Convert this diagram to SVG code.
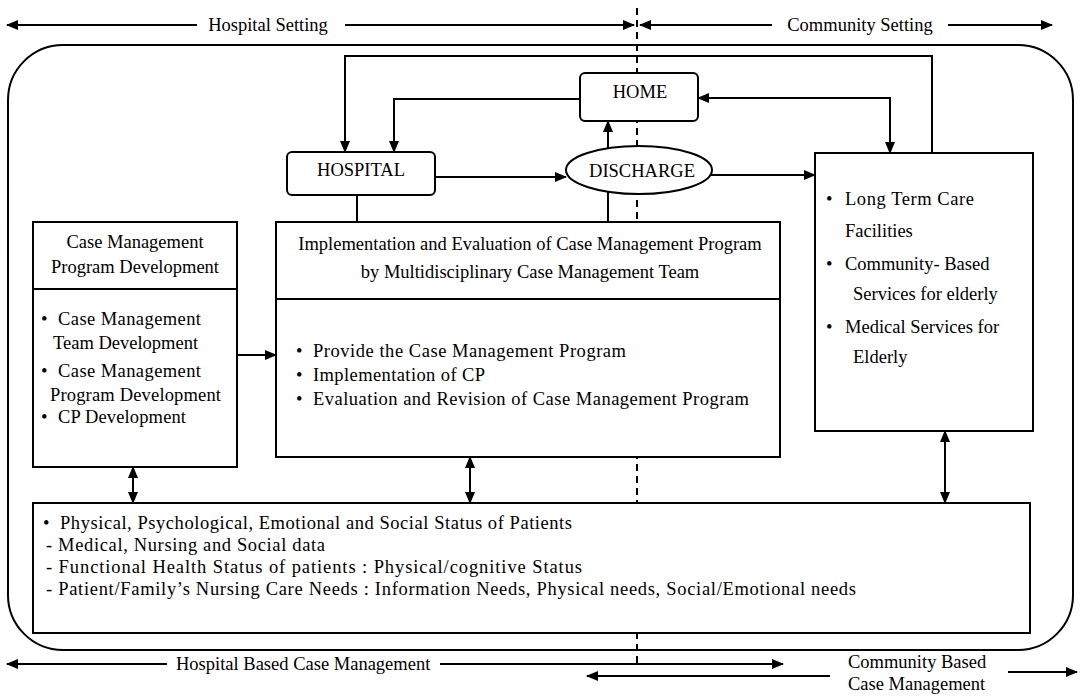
<svg xmlns="http://www.w3.org/2000/svg" width="1083" height="699" viewBox="0 0 1083 699">
<style>
text{font-family:"Liberation Serif","Times New Roman",serif;font-size:18.5px;fill:#000}
.box{fill:#fff;stroke:#000;stroke-width:2}
.ln{fill:none;stroke:#000;stroke-width:2}
.dash{fill:none;stroke:#000;stroke-width:2;stroke-dasharray:7,5}
.c{text-anchor:middle}
</style>
<defs>
<marker id="ah" viewBox="0 0 12 10" refX="11" refY="5" markerWidth="12" markerHeight="10" markerUnits="userSpaceOnUse" orient="auto-start-reverse"><path d="M0,0 L12,5 L0,10 Z" fill="#000"/></marker>
</defs>
<rect width="1083" height="699" fill="#fff"/>

<g id="dividers">
<line class="dash" x1="637" y1="8" x2="637" y2="668"/>
<rect x="8" y="45" width="1065" height="605" rx="55" ry="55" fill="none" stroke="#000" stroke-width="2"/>
</g>

<g id="scale-labels">
<line class="ln" x1="197" y1="25" x2="7" y2="25" marker-end="url(#ah)"/>
<text class="c" x="268" y="31">Hospital Setting</text>
<line class="ln" x1="345" y1="25" x2="634" y2="25" marker-end="url(#ah)"/>
<line class="ln" x1="772" y1="25" x2="640" y2="25" marker-end="url(#ah)"/>
<text class="c" x="860" y="31">Community Setting</text>
<line class="ln" x1="948" y1="25" x2="1052" y2="25" marker-end="url(#ah)"/>

<line class="ln" x1="167" y1="664" x2="7" y2="664" marker-end="url(#ah)"/>
<text x="176" y="670">Hospital Based Case Management</text>
<line class="ln" x1="440" y1="664" x2="783" y2="664" marker-end="url(#ah)"/>
<line class="ln" x1="830" y1="676" x2="587" y2="676" marker-end="url(#ah)"/>
<text x="848" y="668">Community Based</text>
<text x="848" y="690">Case Management</text>
<line class="ln" x1="1008" y1="672" x2="1077" y2="672" marker-end="url(#ah)"/>
</g>

<g id="connectors">
<path class="ln" d="M932,153 V56 H345 V152" marker-end="url(#ah)"/>
<path class="ln" d="M580,99 H394 V152" marker-end="url(#ah)"/>
<path class="ln" d="M698,98 H890 V153" marker-start="url(#ah)" marker-end="url(#ah)"/>
<line class="ln" x1="435" y1="177" x2="566" y2="177" marker-end="url(#ah)"/>
<line class="ln" x1="608" y1="149" x2="608" y2="121" marker-end="url(#ah)"/>
<line class="ln" x1="608" y1="192" x2="608" y2="222"/>
<line class="ln" x1="357" y1="195" x2="357" y2="222"/>
<line class="ln" x1="711" y1="175" x2="815" y2="175" marker-end="url(#ah)"/>
<line class="ln" x1="237" y1="355" x2="276" y2="355" marker-end="url(#ah)"/>
<line class="ln" x1="133" y1="467" x2="133" y2="503" marker-start="url(#ah)" marker-end="url(#ah)"/>
<line class="ln" x1="470" y1="457" x2="470" y2="503" marker-start="url(#ah)" marker-end="url(#ah)"/>
<line class="ln" x1="945" y1="431" x2="945" y2="503" marker-start="url(#ah)" marker-end="url(#ah)"/>
</g>

<g id="home">
<rect class="box" x="580" y="73" width="118" height="48" rx="5"/>
<text class="c" x="640" y="98">HOME</text>
</g>

<g id="hospital">
<rect class="box" x="287" y="152" width="148" height="43" rx="5"/>
<text class="c" x="361" y="176">HOSPITAL</text>
</g>

<g id="discharge">
<ellipse class="box" cx="639" cy="170" rx="73" ry="24"/>
<text class="c" x="642" y="177">DISCHARGE</text>
</g>

<g id="program-development">
<rect class="box" x="33" y="222" width="204" height="245"/>
<line class="ln" x1="33" y1="289" x2="237" y2="289"/>
<text class="c" x="135" y="248">Case Management</text>
<text class="c" x="135" y="273">Program Development</text>
<text x="41" y="325">•</text><text x="58" y="325" textLength="143" lengthAdjust="spacing">Case Management</text>
<text x="53" y="349">Team Development</text>
<text x="41" y="377">•</text><text x="58" y="377" textLength="143" lengthAdjust="spacing">Case Management</text>
<text x="50" y="401" textLength="171" lengthAdjust="spacing">Program Development</text>
<text x="41" y="423">•</text><text x="58" y="423" textLength="128" lengthAdjust="spacing">CP Development</text>
</g>

<g id="implementation">
<rect class="box" x="276" y="222" width="504" height="235"/>
<line class="ln" x1="276" y1="299" x2="780" y2="299"/>
<text class="c" x="530" y="250">Implementation and Evaluation of Case Management Program</text>
<text class="c" x="530" y="278">by Multidisciplinary Case Management Team</text>
<text x="296" y="357">•</text><text x="313" y="357" textLength="313" lengthAdjust="spacing">Provide the Case Management Program</text>
<text x="296" y="381">•</text><text x="313" y="381" textLength="172" lengthAdjust="spacing">Implementation of CP</text>
<text x="296" y="405">•</text><text x="313" y="405" textLength="436" lengthAdjust="spacing">Evaluation and Revision of Case Management Program</text>
</g>

<g id="community-services">
<rect class="box" x="815" y="153" width="218" height="278"/>
<text x="826" y="205">•</text><text x="845" y="205" textLength="129" lengthAdjust="spacing">Long Term Care</text>
<text x="845" y="237">Facilities</text>
<text x="826" y="270">•</text><text x="845" y="270">Community- Based</text>
<text x="853" y="300">Services for elderly</text>
<text x="826" y="333">•</text><text x="845" y="333">Medical Services for</text>
<text x="853" y="363">Elderly</text>
</g>

<g id="patient-status">
<rect class="box" x="33" y="503" width="997" height="130"/>
<text x="43" y="529">•</text><text x="60" y="529" textLength="512" lengthAdjust="spacing">Physical, Psychological, Emotional and Social Status of Patients</text>
<text x="46" y="551" textLength="279" lengthAdjust="spacing">- Medical, Nursing and Social data</text>
<text x="46" y="573" textLength="536" lengthAdjust="spacing">- Functional Health Status of patients : Physical/cognitive Status</text>
<text x="46" y="595" textLength="810" lengthAdjust="spacing">- Patient/Family’s Nursing Care Needs : Information Needs, Physical needs, Social/Emotional needs</text>
</g>
</svg>
